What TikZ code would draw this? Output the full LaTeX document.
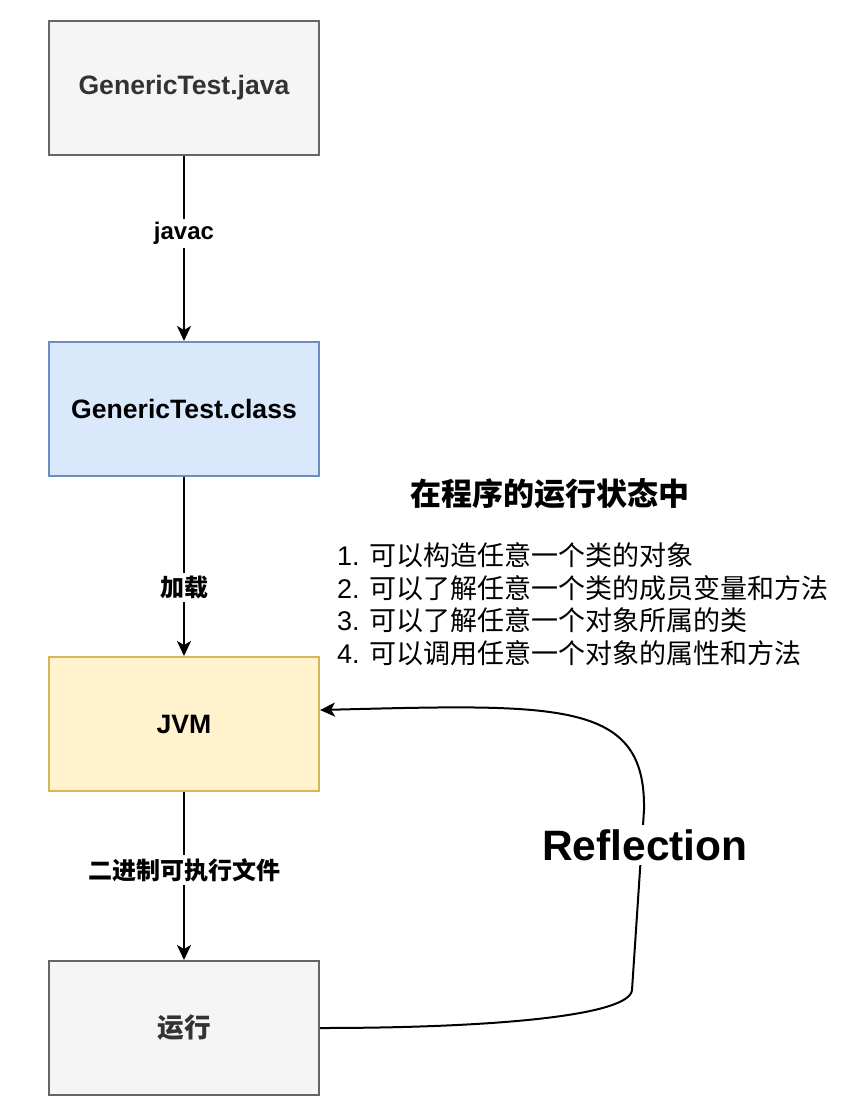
\documentclass[tikz,border=0pt]{standalone}
\usepackage{fontspec}
\setmainfont{Liberation Sans}
\newfontfamily\cjk{Noto Sans CJK SC}
\usetikzlibrary{arrows.meta}
\definecolor{grayfill}{HTML}{F5F5F5}
\definecolor{graystroke}{HTML}{666666}
\definecolor{graytext}{HTML}{333333}
\definecolor{bluefill}{HTML}{DAE8FC}
\definecolor{bluestroke}{HTML}{6C8EBF}
\definecolor{yellowfill}{HTML}{FFF2CC}
\definecolor{yellowstroke}{HTML}{D6B656}
\tikzset{
  box/.style={draw, line width=2pt, minimum width=270pt, minimum height=134pt, inner sep=0pt,
    font=\fontsize{26.6}{30}\selectfont\bfseries},
  graybox/.style={box, fill=grayfill, draw=graystroke, text=graytext},
  bluebox/.style={box, fill=bluefill, draw=bluestroke, text=black},
  yellowbox/.style={box, fill=yellowfill, draw=yellowstroke, text=black},
  arr/.style={line width=2pt, -{Stealth[length=15pt,width=14pt,inset=4pt]}},
  lbl/.style={fill=white, inner sep=3pt, font=\fontsize{24}{28}\selectfont\bfseries},
}
\begin{document}
\begin{tikzpicture}[x=1pt,y=-1pt]
\useasboundingbox[fill=white] (0,0) rectangle (853,1119);
\node[graybox] (java) at (184,87.5) {GenericTest.java};
\node[bluebox] (class) at (184,409) {GenericTest.class};
\node[yellowbox] (jvm) at (184,724) {JVM};
\node[graybox] (run) at (184,1028) {\cjk 运行};

\draw[arr] (java) -- node[lbl, pos=0.42] {javac} (class);
\draw[arr] (class) -- node[lbl, pos=0.62] {\cjk 加载} (jvm);
\draw[arr] (jvm) -- node[lbl, pos=0.465] {\cjk 二进制可执行文件} (run);

\node[font=\fontsize{31}{36}\selectfont\bfseries\cjk] (title) at (550,494) {在程序的运行状态中};
\node[anchor=west, align=left, inner sep=0pt, font=\fontsize{27}{32.6}\selectfont] (list) at (337,604)
  {1. {\cjk 可以构造任意一个类的对象}\\
   2. {\cjk 可以了解任意一个类的成员变量和方法}\\
   3. {\cjk 可以了解任意一个对象所属的类}\\
   4. {\cjk 可以调用任意一个对象的属性和方法}};

\coordinate (jvmin) at ([yshift=14pt]jvm.east);
\coordinate (b1) at (632,990);
\coordinate (b2) at (644,810);
\draw[arr] (run.east) .. controls (500,1028) and (630,1015) .. (b1) -- (b2)
  .. controls (646,700) and (560,704) .. (jvmin);
\node[fill=white, inner sep=4pt, font=\fontsize{42.5}{48}\selectfont\bfseries] (refl) at (645,845) {Reflection};
\end{tikzpicture}
\end{document}
